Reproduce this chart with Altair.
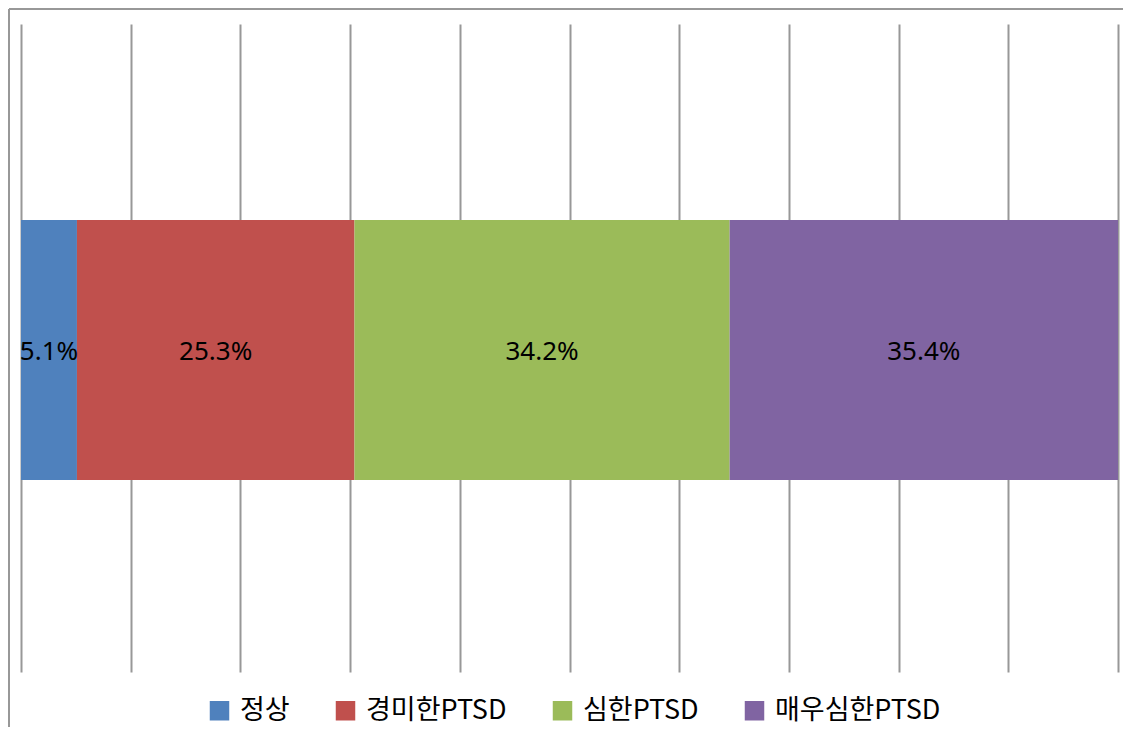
import altair as alt
import pandas as pd

categories = ["정상", "경미한PTSD", "심한PTSD", "매우심한PTSD"]
values = [5.1, 25.3, 34.2, 35.4]
colors = ["#4F81BD", "#C0504D", "#9BBB59", "#8064A2"]
grid_values = [0, 10, 20, 30, 40, 50, 60, 70, 80, 90, 100]

df = pd.DataFrame({"cat": categories, "value": values, "order": list(range(len(categories)))})

W, H = 1097, 648

base = alt.Chart(df).transform_window(
    cum="sum(value)", sort=[alt.SortField("order")], frame=[None, 0]
).transform_calculate(
    start="datum.cum - datum.value",
    mid="datum.cum - datum.value / 2",
    label="format(datum.value, '.1f') + '%'",
)

xscale = alt.Scale(domain=[0, 100], nice=False, zero=True)

bars = base.mark_bar(size=260, yOffset=2).encode(
    x=alt.X("start:Q", scale=xscale,
            axis=alt.Axis(values=grid_values, grid=True, gridColor="#989898", gridWidth=2,
                          gridOpacity=1, domain=False, ticks=False, labels=False, title=None)),
    x2="cum:Q",
    color=alt.Color("cat:N", scale=alt.Scale(domain=categories, range=colors),
                    sort=categories,
                    legend=alt.Legend(orient="none", direction="horizontal", legendX=185, legendY=673,
                                      title=None, symbolType="square", symbolSize=380,
                                      symbolStrokeWidth=0, labelFontSize=27, labelLimit=400,
                                      labelFont="Noto Sans CJK KR", labelColor="#000000",
                                      columnPadding=42, labelOffset=7, padding=0)),
)

text = base.mark_text(fontSize=26, font="Noto Sans", color="#000000", dy=4).encode(
    x=alt.X("mid:Q", scale=xscale),
    text="label:N",
)

frame_df = pd.DataFrame({"k": [0]})
left_line = alt.Chart(frame_df).mark_rule(color="#989898", strokeWidth=2).encode(
    x=alt.value(-12), y=alt.value(-15), y2=alt.value(H + 55)
)
top_line = alt.Chart(frame_df).mark_rule(color="#989898", strokeWidth=2).encode(
    y=alt.value(-15), x=alt.value(-12), x2=alt.value(W + 5)
)

chart = alt.layer(bars, text, left_line, top_line).properties(
    width=W, height=H,
    padding={"left": 13, "top": 16, "right": 5, "bottom": 55},
    autosize=alt.AutoSizeParams(type="none"),
).configure_view(stroke=None)

chart.save("out.html", embed_options={"renderer": "svg", "actions": False})
